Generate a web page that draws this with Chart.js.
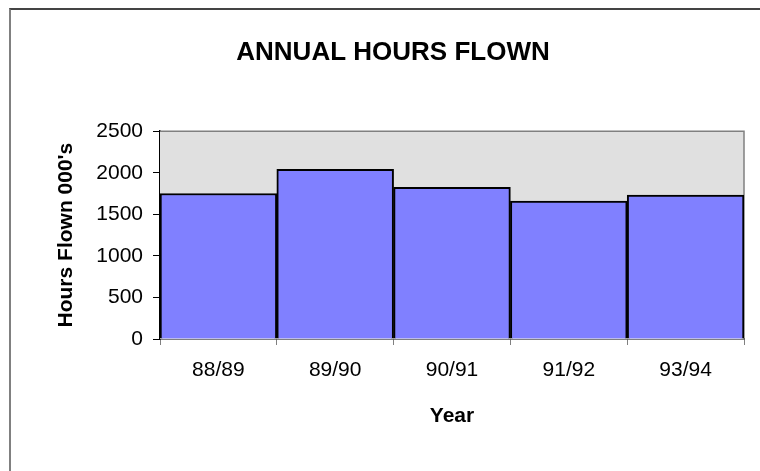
<!DOCTYPE html>
<html>
<head>
<meta charset="utf-8">
<script src="https://cdn.jsdelivr.net/npm/chart.js@4"></script>
<style>
  body { margin: 0; background: #fff; }
  #frame { position: absolute; left: 9px; top: 8px; width: 760px; height: 470px;
           border-top: 2px solid #444; border-left: 2px solid #808080; }
  #myChart { position: absolute; left: 0; top: 0; }
</style>
</head>
<body>
<div id="frame"></div>
<canvas id="myChart" width="760" height="471"></canvas>
<script>
// datos del grafico
const years = ['88/89', '89/90', '90/91', '91/92', '93/94'];
const hoursFlown = [1750, 2040, 1825, 1660, 1730];
const yTicks = [0, 500, 1000, 1500, 2000, 2500];

// fondo gris del area de trazado
const plotBackground = {
    id: 'plotBackground',
    beforeDatasetsDraw(chart) {
        const { ctx, chartArea: a } = chart;
        ctx.save();
        ctx.fillStyle = '#e0e0e0';
        ctx.fillRect(a.left, a.top, a.right - a.left, a.bottom - a.top);
        ctx.strokeStyle = '#808080';
        ctx.lineWidth = 1.5;
        ctx.beginPath();
        ctx.moveTo(a.left, a.top);
        ctx.lineTo(a.right, a.top);
        ctx.lineTo(a.right, a.bottom);
        ctx.stroke();
        ctx.restore();
    }
};

const tickFont = { family: 'Liberation Sans, Arial, sans-serif', size: 21 };
const titleFont = { family: 'Liberation Sans, Arial, sans-serif', size: 21, weight: 'bold' };

new Chart(document.getElementById('myChart'), {
    type: 'bar',
    data: {
        labels: years,
        datasets: [{
            label: 'Hours Flown',
            data: hoursFlown,
            backgroundColor: '#8080ff',
            borderColor: '#000000',
            borderWidth: 2,
            barPercentage: 1,
            categoryPercentage: 1
        }]
    },
    options: {
        responsive: false,
        animation: false,
        layout: { padding: { left: 42, right: 16, top: 0, bottom: 0 } },
        plugins: {
            legend: { display: false },
            tooltip: { enabled: false },
            title: {
                display: true,
                text: 'ANNUAL HOURS FLOWN',
                color: '#000',
                font: { family: 'Liberation Sans, Arial, sans-serif', size: 26, weight: 'bold' },
                padding: { top: 37, bottom: 63 }
            }
        },
        scales: {
            x: {
                grid: { drawOnChartArea: false, tickLength: 6, color: '#808080', offset: true },
                border: { color: '#000', width: 1.5 },
                ticks: { color: '#000', font: tickFont, padding: 13, maxRotation: 0 },
                title: { display: true, text: 'Year', color: '#000', font: titleFont,
                         padding: { top: 0, bottom: 42 } },
                afterFit(scale) { scale.height = 132; }
            },
            y: {
                min: 0,
                max: 2500,
                afterBuildTicks(scale) { scale.ticks = yTicks.map(v => ({ value: v })); },
                grid: { drawOnChartArea: false, tickLength: 7, color: '#000' },
                border: { color: '#000', width: 1.5 },
                ticks: { color: '#000', font: tickFont, padding: 10,
                         callback: (v) => String(v) },
                title: { display: true, text: "Hours Flown 000's", color: '#000', font: titleFont,
                         padding: { top: 12, bottom: 0 } },
                afterFit(scale) { scale.width = 118; }
            }
        }
    },
    plugins: [plotBackground]
});
</script>
</body>
</html>
